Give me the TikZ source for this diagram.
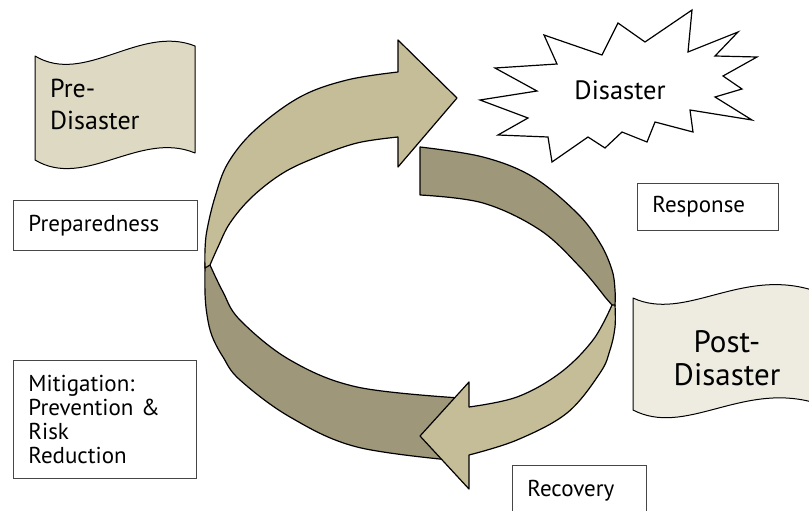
\documentclass[tikz,border=0pt]{standalone}
\usepackage{fontspec}
\setmainfont{PT Sans}
\definecolor{preFill}{HTML}{DDD9C3}
\definecolor{postFill}{HTML}{EEECE1}
\definecolor{tanLight}{HTML}{C4BD97}
\definecolor{tanDark}{RGB}{158,151,121}
\definecolor{boxLine}{RGB}{70,70,70}
\begin{document}
\begin{tikzpicture}[x=1pt,y=-1pt,
  outl/.style={draw=black, line width=1.2pt, line join=round},
  lightband/.style={outl, fill=tanLight},
  darkband/.style={outl, fill=tanDark},
  banner/.style={draw=black, line width=1pt, line join=round},
  txtbox/.style={draw=boxLine, line width=0.9pt, fill=white, anchor=north west, align=left, inner xsep=15pt, inner ysep=0pt, font=\fontsize{23}{24}\selectfont},
  smoothp/.style={smooth, tension=0.6}]
\useasboundingbox (0,0) rectangle (809,511);
\clip (0,0) rectangle (809,511);

% Pre-Disaster banner
\draw[banner, fill=preFill] (35,56) .. controls (85,86) and (140,24) .. (195,46) -- (195,153) .. controls (140,130) and (85,190) .. (35,160) -- cycle;
\node[align=left, anchor=west, inner sep=0pt, font=\fontsize{26}{32}\selectfont] (pre) at (50,104) {Pre-\\Disaster};

% Post-Disaster banner
\draw[banner, fill=postFill] (633,298) .. controls (685,322) and (740,268) .. (812,290) -- (812,402) .. controls (740,383) and (685,437) .. (633,410) -- cycle;
\node[align=center, inner sep=0pt, font=\fontsize{31}{33}\selectfont] (post) at (727,358) {Post-\\Disaster};

% Starburst
\draw[line width=1.2pt, fill=white, line join=miter] (544,35) -- (602,55) -- (618,23) -- (645,42) -- (692,10) -- (688,52) -- (738,32) -- (715,56) -- (757,57) -- (723,76) -- (742,89) -- (715,97) -- (752,120) -- (690,110) -- (693,132) -- (655,122) -- (647,142) -- (622,132) -- (605,148) -- (588,137) -- (552,162) -- (548,137) -- (498,135) -- (528,118) -- (480,100) -- (537,91) -- (495,68) -- (557,64) -- cycle;
\node[inner sep=0pt, font=\fontsize{26.5}{30}\selectfont] (dis) at (620,90) {Disaster};

% Ring bands
\filldraw[darkband] (210,265) -- plot[smoothp] coordinates {(205,262) (205,293) (207,315) (212,336) (223,357) (240,380) (290,417) (357,447) (460,461)} -- plot[smoothp] coordinates {(460,398) (357,387) (290,360) (240,320) (223,292) (210,265)} -- cycle;
\filldraw[darkband] plot[smoothp] coordinates {(420,147) (483,157) (533,177) (577,213) (600,243) (612,270) (615,290) (615,306)} -- (612,305) -- plot[smoothp] coordinates {(605,297) (580,267) (540,230) (483,203) (420,195)} -- cycle;
\filldraw[lightband] plot[smoothp] coordinates {(205,268) (205,250) (207,230) (215,197) (228,163) (255,130) (300,97) (347,80) (398,72)} -- (398,40) -- (457,98) -- (398,167) -- plot[smoothp] coordinates {(398,137) (357,143) (317,157) (283,173) (252,197) (230,223) (218,247) (210,265)} -- cycle;
\filldraw[lightband] (612,305) -- plot[smoothp] coordinates {(615,305) (615,327) (610,350) (600,373) (567,413) (517,440) (469,455)} -- (469,489) -- (420,436) -- (469,382) -- plot[smoothp] coordinates {(469,407) (517,397) (560,373) (593,340) (612,305)} -- cycle;

% Text boxes
\node[txtbox, minimum width=184pt, minimum height=50pt, text width=154pt] (prep) at (13,200) {Preparedness};
\node[txtbox, minimum width=183pt, minimum height=118pt, text width=153pt] (mit) at (13,360) {Mitigation:\\Prevention \&\\Risk\\Reduction};
\node[txtbox, minimum width=141pt, minimum height=47pt, text width=111pt] (resp) at (637,183) {Response};
\node[txtbox, minimum width=134pt, minimum height=50pt, text width=104pt] (rec) at (512,465) {Recovery};
\end{tikzpicture}
\end{document}
